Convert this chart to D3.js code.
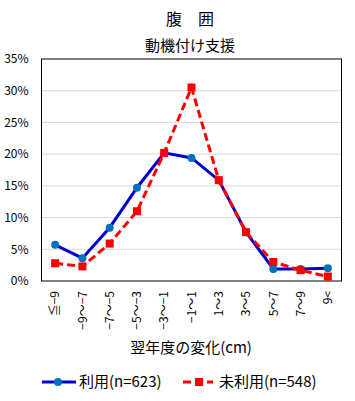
<!DOCTYPE html>
<html><head><meta charset="utf-8">
<script src="https://cdn.jsdelivr.net/npm/d3@7"></script>
<style>body{margin:0;background:#fff}text{font-family:"Noto Sans CJK JP","Noto Sans",sans-serif}</style>
</head><body><svg id="c" width="355" height="401"></svg>
<script>
const categories = ["≦−9","−9～−7","−7～−5","−5～−3","−3～−1","−1～1","1～3","3～5","5～7","7～9","9<"];
const used = [5.7,3.6,8.4,14.7,20.2,19.4,15.9,7.7,1.9,1.9,2.0];
const unused = [2.8,2.3,5.9,11.0,20.2,30.5,15.9,7.7,3.0,1.7,0.7];
const yTicks = [0,5,10,15,20,25,30,35];
const seriesNames = ["利用(n=623)","未利用(n=548)"];

const svg = d3.select("#c");
const L=41.5,R=341.5,T=59,B=281;
const x = d3.scaleBand().domain(categories).range([L,R]);
const y = d3.scaleLinear().domain([0,35]).range([B,T]);

svg.append("text").attr("x",190).attr("y",25).attr("text-anchor","middle").attr("font-size",16).text("腹　囲");
svg.append("text").attr("x",190).attr("y",51).attr("text-anchor","middle").attr("font-size",15).text("動機付け支援");

// grid
svg.append("g").selectAll("line").data(yTicks.slice(1,-1)).join("line")
  .attr("x1",L).attr("x2",R).attr("y1",d=>y(d)).attr("y2",d=>y(d))
  .attr("stroke","#d9d9d9").attr("stroke-width",1);
svg.append("rect").attr("x",L).attr("y",T).attr("width",R-L).attr("height",B-T)
  .attr("fill","none").attr("stroke","#000").attr("stroke-width",1);

// y axis labels
const ya = svg.append("g").attr("transform",`translate(${L},0)`)
  .call(d3.axisLeft(y).tickValues(yTicks).tickFormat(d=>d+"%").tickSize(0).tickPadding(13));
ya.select(".domain").remove();
ya.selectAll("text").attr("font-size",12).attr("fill","#000").style("font-family","'Noto Sans CJK JP',sans-serif");

// x axis labels
const xa = svg.append("g").attr("transform",`translate(0,${B})`)
  .call(d3.axisBottom(x).tickSize(0));
xa.select(".domain").remove();
xa.selectAll("text").attr("font-size",12).attr("fill","#000")
  .attr("text-anchor","end").attr("transform","rotate(-90)")
  .attr("x",-10).attr("y",0).attr("dy","0.35em")
  .style("font-family","'Noto Sans CJK JP',sans-serif");

svg.append("text").attr("x",191).attr("y",353).attr("text-anchor","middle").attr("font-size",15).text("翌年度の変化(cm)");

const cx = d=>x(d)+x.bandwidth()/2;
const line = d3.line().x((d,i)=>cx(categories[i])).y(d=>y(d));

svg.append("path").datum(used).attr("d",line).attr("fill","none").attr("stroke","#0000cc").attr("stroke-width",3);
svg.append("g").selectAll("circle").data(used).join("circle")
  .attr("cx",(d,i)=>cx(categories[i])).attr("cy",d=>y(d)).attr("r",4).attr("fill","#0070c0");

svg.append("path").datum(unused).attr("d",line).attr("fill","none").attr("stroke","#ff0000").attr("stroke-width",3).attr("stroke-dasharray","8,4");
svg.append("g").selectAll("rect").data(unused).join("rect")
  .attr("x",(d,i)=>cx(categories[i])-4).attr("y",d=>y(d)-4).attr("width",8).attr("height",8).attr("fill","#ff0000");

// legend
const ly=382;
svg.append("line").attr("x1",42).attr("x2",76).attr("y1",ly).attr("y2",ly).attr("stroke","#0000cc").attr("stroke-width",3);
svg.append("circle").attr("cx",58).attr("cy",ly).attr("r",4).attr("fill","#0070c0");
svg.append("text").attr("x",79).attr("y",ly).attr("dy","0.35em").attr("font-size",15).text(seriesNames[0]);
svg.append("line").attr("x1",183).attr("x2",213).attr("y1",ly).attr("y2",ly).attr("stroke","#ff0000").attr("stroke-width",3).attr("stroke-dasharray","8,4");
svg.append("rect").attr("x",195).attr("y",ly-4).attr("width",8).attr("height",8).attr("fill","#ff0000");
svg.append("text").attr("x",219).attr("y",ly).attr("dy","0.35em").attr("font-size",15).text(seriesNames[1]);
</script></body></html>
